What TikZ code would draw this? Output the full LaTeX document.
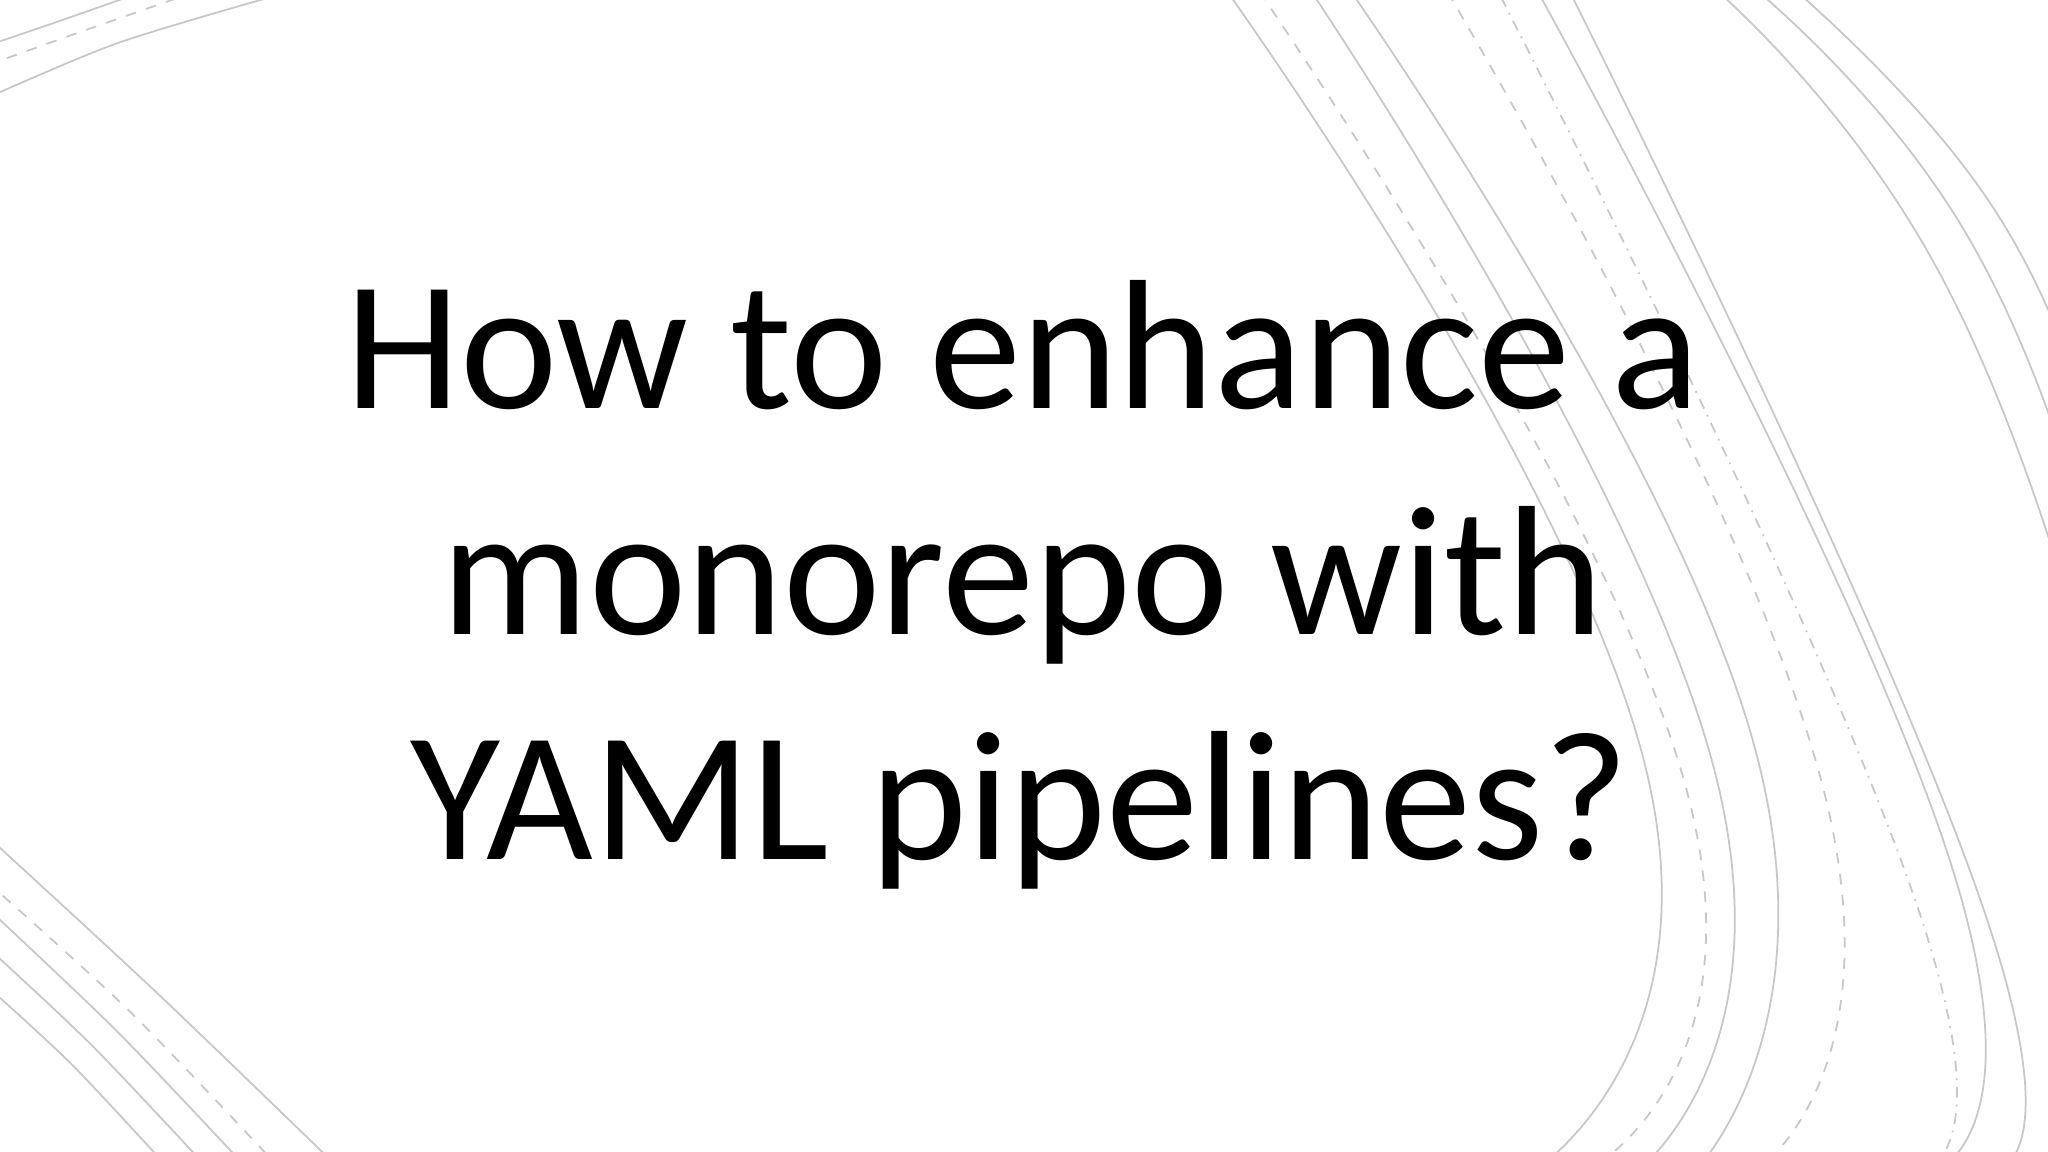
\documentclass[tikz,border=0pt]{standalone}
\usepackage{fontspec}
\setmainfont{Carlito}
\begin{document}
\begin{tikzpicture}[x=0.13061mm,y=-0.13061mm,
  deco/.style={draw=black!22,line width=0.5pt},
  title/.style={anchor=base,font=\fontsize{52.5}{60}\selectfont,inner sep=0pt}]
\fill[white] (0,0) rectangle (1568,882);
\useasboundingbox (0,0) rectangle (1568,882);
\begin{scope}
\clip (0,0) rectangle (1568,882);
% right family
\draw[deco] plot[smooth,tension=0.9] coordinates {(930,-20)(1258,580)(1170,900)};
\draw[deco,dashed] plot[smooth,tension=0.9] coordinates {(955,-20)(1290,600)(1210,900)};
\draw[deco] plot[smooth,tension=0.9] coordinates {(995,-20)(1310,580)(1250,900)};
\draw[deco] plot[smooth,tension=0.9] coordinates {(1025,-20)(1340,560)(1295,900)};
\draw[deco,dashed] plot[smooth,tension=0.9] coordinates {(1100,-20)(1395,600)(1340,900)};
\draw[deco,dash dot] plot[smooth,tension=0.9] coordinates {(1140,-20)(1470,700)(1445,900)};
\draw[deco] plot[smooth,tension=0.9] coordinates {(1170,-20)(1490,650)(1475,900)};
\draw[deco] plot[smooth,tension=0.9] coordinates {(1195,-20)(1520,700)(1505,900)};
\draw[deco] plot[smooth,tension=0.9] coordinates {(1300,-20)(1480,200)(1600,520)};
\draw[deco] plot[smooth,tension=0.9] coordinates {(1330,-20)(1500,170)(1600,420)};
\draw[deco] plot[smooth,tension=0.9] coordinates {(1360,-20)(1520,150)(1600,330)};
% top-left
\draw[deco] plot[smooth] coordinates {(-10,75)(90,33)(210,-3)};
\draw[deco,dashed] plot[smooth] coordinates {(-10,50)(60,25)(140,-3)};
\draw[deco] plot[smooth] coordinates {(-10,35)(40,18)(100,-3)};
% bottom-left
\draw[deco] plot[smooth] coordinates {(-10,640)(120,760)(255,890)};
\draw[deco,dashed] plot[smooth] coordinates {(-10,675)(100,775)(210,890)};
\draw[deco] plot[smooth] coordinates {(-10,695)(90,790)(185,890)};
\draw[deco] plot[smooth] coordinates {(-10,725)(70,800)(155,890)};
\draw[deco] plot[smooth] coordinates {(-10,755)(55,815)(125,890)};
\end{scope}
\node[title] (l1) at (783,313) {How to enhance a};
\node[title] (l2) at (783,486) {monorepo with};
\node[title] (l3) at (781,658) {YAML pipelines?};
\end{tikzpicture}
\end{document}
